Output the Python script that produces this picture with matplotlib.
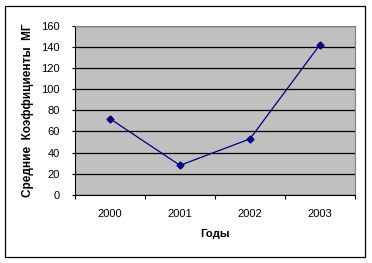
import matplotlib.pyplot as plt
from matplotlib.patches import Rectangle

# data
years = ['2000', '2001', '2002', '2003']
values = [72, 28, 53, 142]
y_ticks = [0, 20, 40, 60, 80, 100, 120, 140, 160]

plt.rcParams['font.family'] = ['Liberation Sans', 'DejaVu Sans']

fig = plt.figure(figsize=(3.72, 2.63), dpi=100)
ax = fig.add_axes([75 / 372, 1 - 195 / 263, 280 / 372, 169.5 / 263])
ax.set_facecolor('#c0c0c0')

x = [i + 0.5 for i in range(len(years))]
ax.plot(x, values, color='#000080', linewidth=0.9, marker='D', markersize=3.5)

ax.set_xlim(0, len(years))
ax.set_ylim(0, 160)
ax.set_yticks(y_ticks)
ax.set_xticks(range(len(years) + 1))
ax.set_xticklabels([])
ax.set_xticks(x, minor=True)
ax.set_xticklabels(years, minor=True)
ax.tick_params(axis='x', which='minor', length=0, pad=10, labelsize=8)
ax.tick_params(axis='x', which='major', length=3, direction='out', width=0.8)
ax.tick_params(axis='y', length=2.2, direction='out', width=0.8, labelsize=8, pad=8.6)

ax.yaxis.grid(True, color='black', linewidth=0.9)
ax.set_axisbelow(True)
for s in ['top', 'right']:
    ax.spines[s].set_color('#808080')
for s in ['left', 'bottom']:
    ax.spines[s].set_color('black')

ax.set_xlabel('Годы', fontsize=8.2, fontweight='bold', labelpad=7)
ax.set_ylabel('Средние  Коэффициенты  МГ', fontsize=8.5, fontweight='bold', labelpad=5.5)

# chart border
fig.patches.append(Rectangle((5 / 372, 6 / 263), 360 / 372, 251 / 263,
                             transform=fig.transFigure, fill=False,
                             edgecolor='black', linewidth=0.9))

fig.savefig('out.png', dpi=100)
